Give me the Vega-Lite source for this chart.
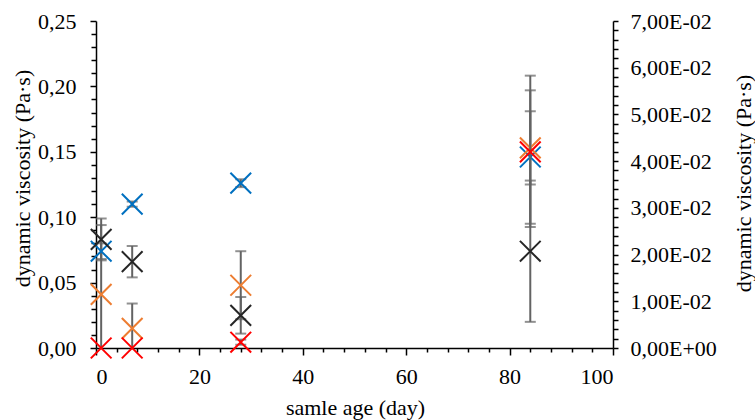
{
  "$schema": "https://vega.github.io/schema/vega-lite/v6.json",
  "width": 517,
  "height": 327,
  "autosize": "none",
  "padding": {"left": 96, "top": 21, "right": 142, "bottom": 72},
  "background": "white",
  "config": {
    "view": {"stroke": null},
    "axis": {
      "labelFont": "Liberation Serif",
      "titleFont": "Liberation Serif",
      "labelFontSize": 22,
      "labelColor": "#000000",
      "titleFontSize": 22,
      "titleFontWeight": "normal",
      "titleColor": "#000000",
      "domainColor": "#000000",
      "domainWidth": 1.5,
      "tickColor": "#000000",
      "tickWidth": 1.5,
      "grid": false,
      "labelOverlap": false,
      "labelBound": false
    }
  },
  "datasets": {
    "viscosity": [
      {"series": "blue", "day": 1, "v": 0.074, "lo": 0.068, "hi": 0.080},
      {"series": "blue", "day": 7, "v": 0.110, "lo": 0.108, "hi": 0.112},
      {"series": "blue", "day": 28, "v": 0.126, "lo": 0.123, "hi": 0.129},
      {"series": "blue", "day": 84, "v": 0.146, "lo": 0.095, "hi": 0.197},
      {"series": "orange", "day": 1, "v": 0.041, "lo": -0.012, "hi": 0.094},
      {"series": "orange", "day": 7, "v": 0.015, "lo": -0.005, "hi": 0.034},
      {"series": "orange", "day": 28, "v": 0.048, "lo": 0.022, "hi": 0.074},
      {"series": "orange", "day": 84, "v": 0.153, "lo": 0.125, "hi": 0.181},
      {"series": "black", "day": 1, "v": 0.083, "lo": 0.067, "hi": 0.099},
      {"series": "black", "day": 7, "v": 0.066, "lo": 0.054, "hi": 0.078},
      {"series": "black", "day": 28, "v": 0.025, "lo": 0.011, "hi": 0.039},
      {"series": "black", "day": 84, "v": 0.074, "lo": 0.020, "hi": 0.128}
    ],
    "secondary": [
      {"series": "red", "day": 1, "v": 0, "lo": null, "hi": null},
      {"series": "red", "day": 7, "v": 0, "lo": null, "hi": null},
      {"series": "red", "day": 28, "v": 0.00124, "lo": 0.0007, "hi": 0.0018},
      {"series": "red", "day": 84, "v": 0.042, "lo": 0.0259, "hi": 0.0583}
    ]
  },
  "encoding": {
    "x": {
      "field": "day",
      "type": "quantitative",
      "scale": {"domain": [0, 100], "nice": false, "zero": false},
      "axis": {
        "title": "samle age (day)",
        "values": [0,4,8,12,16,20,24,28,32,36,40,44,48,52,56,60,64,68,72,76,80,84,88,92,96,100],
        "labelExpr": "datum.value % 20 == 0 ? datum.label : ''",
        "tickSize": {"condition": {"test": "datum.value % 20 == 0", "value": 7}, "value": 4},
        "labelPadding": 11,
        "titleX": 259,
        "titleY": 59,
        "titleBaseline": "middle",
        "titleAnchor": "middle"
      }
    }
  },
  "layer": [
    {
      "data": {"name": "viscosity"},
      "encoding": {
        "y": {
          "field": "v",
          "type": "quantitative",
          "scale": {"domain": [0, 0.25], "nice": false},
          "axis": {
            "orient": "left",
            "title": "dynamic viscosity (Pa·s)",
            "values": [0,0.01,0.02,0.03,0.04,0.05,0.06,0.07,0.08,0.09,0.1,0.11,0.12,0.13,0.14,0.15,0.16,0.17,0.18,0.19,0.2,0.21,0.22,0.23,0.24,0.25],
            "labelExpr": "abs(round(datum.value*20) - datum.value*20) < 1e-6 ? replace(format(datum.value, '.2f'), '.', ',') : ''",
            "tickSize": {"condition": {"test": "abs(round(datum.value*20) - datum.value*20) < 1e-6", "value": 6}, "value": 5},
            "labelPadding": 14,
            "titleAngle": 270,
            "titleX": -74,
            "titleY": 157,
            "titleBaseline": "middle",
            "titleAlign": "center"
          }
        }
      },
      "layer": [
        {
          "mark": {"type": "rule", "color": "#636363", "strokeWidth": 2, "clip": true},
          "encoding": {"y": {"field": "lo", "type": "quantitative"}, "y2": {"field": "hi"}}
        },
        {
          "mark": {"type": "tick", "orient": "horizontal", "color": "#636363", "size": 11, "thickness": 2, "clip": true},
          "encoding": {"y": {"field": "lo", "type": "quantitative"}}
        },
        {
          "mark": {"type": "tick", "orient": "horizontal", "color": "#636363", "size": 11, "thickness": 2, "clip": true},
          "encoding": {"y": {"field": "hi", "type": "quantitative"}}
        },
        {
          "mark": {"type": "point", "shape": "M-1,-1L1,1M-1,1L1,-1", "filled": false, "size": 430, "strokeWidth": 2, "opacity": 1},
          "encoding": {
            "color": {
              "field": "series",
              "type": "nominal",
              "scale": {"domain": ["blue", "orange", "black", "red"], "range": ["#0070C0", "#ED7D31", "#262626", "#FF0000"]},
              "legend": null
            }
          }
        }
      ]
    },
    {
      "data": {"name": "secondary"},
      "encoding": {
        "y": {
          "field": "v",
          "type": "quantitative",
          "scale": {"domain": [0, 0.07], "nice": false},
          "axis": {
            "orient": "right",
            "title": "dynamic viscosity (Pa·s)",
            "values": [0,0.002,0.004,0.006,0.008,0.01,0.012,0.014,0.016,0.018,0.02,0.022,0.024,0.026,0.028,0.03,0.032,0.034,0.036,0.038,0.04,0.042,0.044,0.046,0.048,0.05,0.052,0.054,0.056,0.058,0.06,0.062,0.064,0.066,0.068,0.07],
            "labelExpr": "abs(round(datum.value*100) - datum.value*100) < 1e-6 ? (datum.value == 0 ? '0,00E+00' : replace(format(datum.value*100, '.2f'), '.', ',') + 'E-02') : ''",
            "tickSize": 5,
            "labelPadding": 12,
            "titleAngle": 270,
            "titleX": 130,
            "titleY": 162,
            "titleBaseline": "middle",
            "titleAlign": "center"
          }
        }
      },
      "layer": [
        {
          "mark": {"type": "rule", "color": "#636363", "strokeWidth": 2, "clip": true},
          "encoding": {"y": {"field": "lo", "type": "quantitative"}, "y2": {"field": "hi"}}
        },
        {
          "mark": {"type": "tick", "orient": "horizontal", "color": "#636363", "size": 11, "thickness": 2, "clip": true},
          "encoding": {"y": {"field": "lo", "type": "quantitative"}}
        },
        {
          "mark": {"type": "tick", "orient": "horizontal", "color": "#636363", "size": 11, "thickness": 2, "clip": true},
          "encoding": {"y": {"field": "hi", "type": "quantitative"}}
        },
        {
          "mark": {"type": "point", "shape": "M-1,-1L1,1M-1,1L1,-1", "filled": false, "size": 430, "strokeWidth": 2, "opacity": 1, "color": "#FF0000"}
        }
      ]
    }
  ],
  "resolve": {"scale": {"y": "independent"}, "axis": {"y": "independent"}}
}
